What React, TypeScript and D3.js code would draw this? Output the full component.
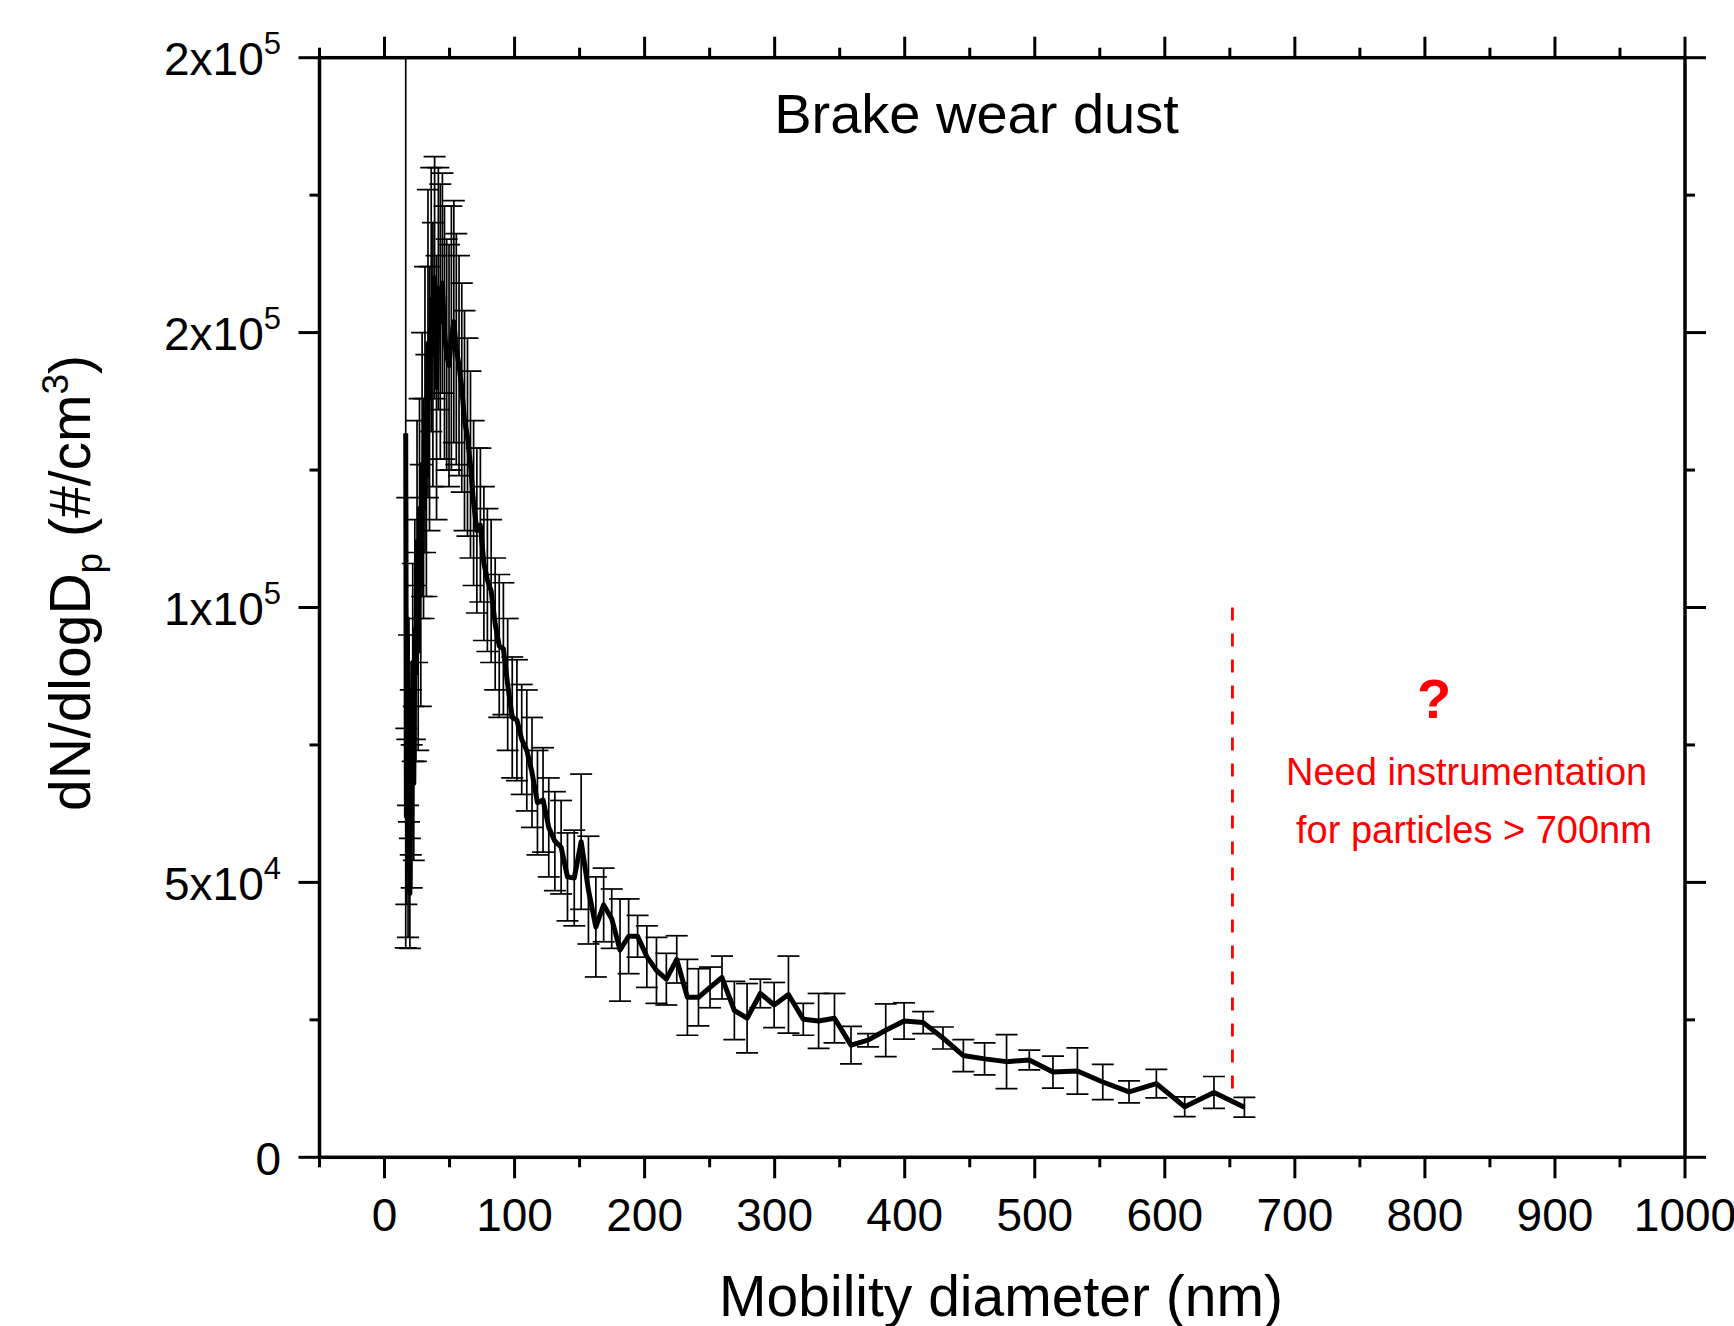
import React, { useEffect } from 'react';
import * as d3 from 'd3';

// Mobility diameter bins (nm)
const diameters = [
  16.3, 16.8, 17.5, 18.1, 18.8, 19.5, 20.2, 20.9, 21.7, 22.5,
  23.3, 24.1, 25.0, 25.9, 26.9, 27.9, 28.9, 30.0, 31.1, 32.2,
  33.4, 34.6, 35.9, 37.2, 38.5, 40.0, 41.4, 42.9, 44.5, 46.1,
  47.8, 49.6, 51.4, 53.3, 55.2, 57.3, 59.4, 61.5, 63.8, 66.1,
  68.5, 71.0, 73.7, 76.4, 79.1, 82.0, 85.1, 88.2, 91.4, 94.7,
  98.2, 101.8, 105.5, 109.4, 113.4, 117.6, 121.9, 126.3, 131.0, 135.8,
  140.7, 145.9, 151.2, 156.8, 162.5, 168.5, 174.7, 181.1, 187.7, 194.6,
  201.7, 209.1, 216.7, 224.7, 232.9, 241.4, 250.3, 259.5, 269.0, 278.8,
  289.0, 299.6, 310.6, 322.0, 333.8, 346.0, 358.7, 371.8, 385.4, 399.5,
  414.2, 429.4, 445.1, 461.4, 478.3, 495.8, 514.0, 532.8, 552.3, 572.5,
  593.5, 615.3, 637.8, 661.2,
];

// dN/dlogDp (#/cm3)
const concentrations = [
  131700, 62000, 98000, 52000, 78000, 48000, 70000, 62000, 90000, 68000,
  96000, 88000, 112000, 92000, 118000, 104000, 126000, 118000, 136000, 124000,
  148000, 138000, 156000, 146000, 160000, 140000, 158000, 152000, 159000, 150000,
  146000, 144000, 149000, 152000, 147000, 144000, 140000, 134000, 131000, 126000,
  119000, 114000, 115000, 108000, 105000, 103000, 97000, 93000, 92500, 86000,
  80000, 79500, 76000, 74000, 70000, 64500, 65000, 60000, 57500, 56400,
  51000, 50800, 57400, 48600, 41900, 45900, 43400, 37700, 40200, 40200,
  36500, 34000, 32400, 36000, 29100, 29100, 30900, 32700, 26700, 25300,
  29800, 27700, 29600, 25100, 24800, 25300, 20400, 21300, 23100, 24800,
  24500, 21700, 18500, 17900, 17400, 17700, 15500, 15700, 13700, 11900,
  13400, 9200, 11800, 9100,
];

// standard deviation (#/cm3)
const errors = [
  93600, 16000, 22000, 12000, 17000, 10000, 15000, 13000, 18000, 14000,
  20000, 16000, 22000, 18000, 20000, 22000, 24000, 20000, 26000, 22000,
  28000, 24000, 24000, 24000, 22000, 24000, 22000, 25000, 20000, 23000,
  21000, 22000, 24000, 22000, 21000, 20000, 19000, 20000, 18000, 17000,
  15000, 15000, 14000, 14000, 13000, 13000, 12000, 13000, 12000, 12000,
  11000, 11000, 10000, 11000, 10000, 9500, 9500, 9000, 9000, 8500,
  8000, 8700, 12300, 9800, 9100, 6700, 5400, 9300, 6800, 3800,
  5600, 6000, 4700, 4300, 6900, 5200, 3700, 3900, 5300, 6300,
  2600, 4100, 7000, 2900, 5000, 4500, 3400, 1200, 4800, 3300,
  2000, 2000, 2900, 2900, 4900, 1800, 2900, 4200, 3200, 2000,
  2600, 1800, 2900, 1800,
];

const xMajorTicks = [0, 100, 200, 300, 400, 500, 600, 700, 800, 900, 1000];
const xMinorTicks = [-50, 50, 150, 250, 350, 450, 550, 650, 750, 850, 950];
const xTickLabels = ['0', '100', '200', '300', '400', '500', '600', '700', '800', '900', '1000'];
const yMajorTicks = [0, 50000, 100000, 150000, 200000];
const yMinorTicks = [25000, 75000, 125000, 175000];
const yTickBases = ['0', '5x10', '1x10', '2x10', '2x10'];
const yTickExps = ['', '4', '5', '5', '5'];

const cutoffDiameter = 652;
const cutoffRange = [10500, 100000];

const W = 1734;
const H = 1326;
const L = 319.5;
const R = 1685;
const T = 57.7;
const B = 1157.3;
const FONT = '"Liberation Sans", Arial, Helvetica, sans-serif';

export default function App() {
  useEffect(() => {
    document.body.style.margin = '0';
  }, []);

  const x = d3.scaleLinear().domain([-50, 1000]).range([L, R]);
  const y = d3.scaleLinear().domain([0, 200000]).range([B, T]);

  const line = d3
    .line<number>()
    .x((_, i) => x(diameters[i]))
    .y((d) => y(d));

  const MAJ = 21;
  const MIN = 10;
  const cap = 11;

  return (
    <svg
      width={W}
      height={H}
      style={{ display: 'block', position: 'absolute', left: 0, top: 0, background: '#fff' }}
      fontFamily={FONT}
    >
      <defs>
        <clipPath id="plot">
          <rect x={L} y={T} width={R - L} height={B - T} />
        </clipPath>
      </defs>
      <rect x={0} y={0} width={W} height={H} fill="#fff" />

      {/* error bars */}
      <g clipPath="url(#plot)" stroke="#000" strokeWidth={1.7} fill="none">
        {diameters.map((d, i) => {
          const cx = x(d);
          const yt = y(concentrations[i] + errors[i]);
          const yb = y(concentrations[i] - errors[i]);
          return (
            <g key={i}>
              <line x1={cx} x2={cx} y1={yt} y2={yb} />
              <line x1={cx - cap} x2={cx + cap} y1={yt} y2={yt} />
              <line x1={cx - cap} x2={cx + cap} y1={yb} y2={yb} />
            </g>
          );
        })}
      </g>

      {/* main line */}
      <path
        d={line(concentrations) || ''}
        fill="none"
        stroke="#000"
        strokeWidth={5}
        strokeLinejoin="round"
        clipPath="url(#plot)"
      />

      {/* cutoff dashed line */}
      <line
        x1={x(cutoffDiameter)}
        x2={x(cutoffDiameter)}
        y1={y(cutoffRange[1])}
        y2={y(cutoffRange[0])}
        stroke="#ff0000"
        strokeWidth={2.8}
        strokeDasharray="13,13"
      />

      {/* frame */}
      <rect x={L} y={T} width={R - L} height={B - T} fill="none" stroke="#000" strokeWidth={3.5} />

      {/* ticks */}
      <g stroke="#000" strokeWidth={3}>
        {xMajorTicks.map((t) => (
          <g key={'xm' + t}>
            <line x1={x(t)} x2={x(t)} y1={B} y2={B + MAJ} />
            <line x1={x(t)} x2={x(t)} y1={T} y2={T - MAJ} />
          </g>
        ))}
        {xMinorTicks.map((t) => (
          <g key={'xn' + t}>
            <line x1={x(t)} x2={x(t)} y1={B} y2={B + MIN} />
            <line x1={x(t)} x2={x(t)} y1={T} y2={T - MIN} />
          </g>
        ))}
        {yMajorTicks.map((t) => (
          <g key={'ym' + t}>
            <line x1={L} x2={L - MAJ} y1={y(t)} y2={y(t)} />
            <line x1={R} x2={R + MAJ} y1={y(t)} y2={y(t)} />
          </g>
        ))}
        {yMinorTicks.map((t) => (
          <g key={'yn' + t}>
            <line x1={L} x2={L - MIN} y1={y(t)} y2={y(t)} />
            <line x1={R} x2={R + MIN} y1={y(t)} y2={y(t)} />
          </g>
        ))}
      </g>

      {/* x tick labels */}
      <g fontSize={46} textAnchor="middle" fill="#000">
        {xMajorTicks.map((t, i) => (
          <text key={'xl' + t} x={x(t)} y={1231}>
            {xTickLabels[i]}
          </text>
        ))}
      </g>

      {/* y tick labels */}
      <g fontSize={46} textAnchor="end" fill="#000">
        {yMajorTicks.map((t, i) => (
          <text key={'yl' + t} x={281} y={y(t) + 17.5}>
            {yTickBases[i]}
            {yTickExps[i] ? (
              <tspan fontSize={31} dy={-21}>
                {yTickExps[i]}
              </tspan>
            ) : null}
          </text>
        ))}
      </g>

      {/* axis titles */}
      <text x={1001} y={1316} fontSize={57} textAnchor="middle" fill="#000">
        Mobility diameter (nm)
      </text>
      <text transform="translate(90,583) rotate(-90)" fontSize={57} textAnchor="middle" fill="#000">
        dN/dlogD
        <tspan fontSize={37} dy={12}>p</tspan>
        <tspan dy={-12}> (#/cm</tspan>
        <tspan fontSize={37} dy={-22}>3</tspan>
        <tspan dy={22}>)</tspan>
      </text>

      {/* chart title */}
      <text x={976.5} y={133} fontSize={56} textAnchor="middle" fill="#000">
        Brake wear dust
      </text>

      {/* annotation */}
      <text x={1434} y={718} fontSize={56} fontWeight="bold" textAnchor="middle" fill="#ff0000">
        ?
      </text>
      <text x={1286} y={785} fontSize={38} fill="#ff0000">
        Need instrumentation
      </text>
      <text x={1296} y={843} fontSize={38} fill="#ff0000">
        for particles &gt; 700nm
      </text>
    </svg>
  );
}
